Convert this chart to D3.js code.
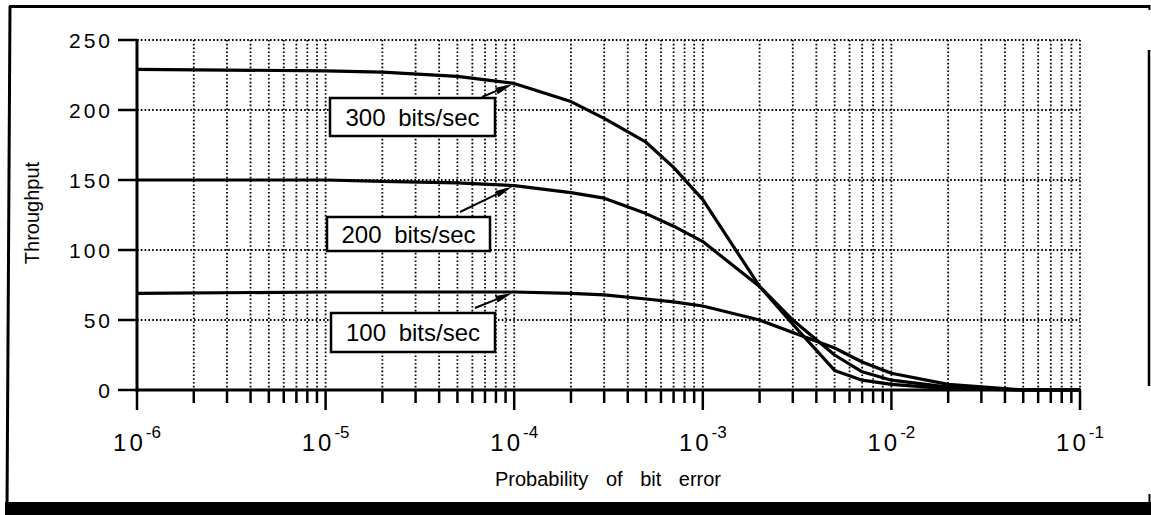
<!DOCTYPE html>
<html>
<head>
<meta charset="utf-8">
<script src="https://cdn.jsdelivr.net/npm/d3@7/dist/d3.min.js"></script>
<style>
  body { margin: 0; background: #fff; }
  svg { display: block; font-family: "Liberation Sans", Arial, Helvetica, sans-serif; }
</style>
</head>
<body>
<svg id="chart" width="1151" height="515"></svg>
<script>
// probability of bit error (x samples shared by all curves)
const errorProb = [1e-6, 1e-5, 2e-5, 5e-5, 1e-4, 2e-4, 3e-4, 5e-4, 7e-4, 1e-3, 2e-3, 3e-3, 5e-3, 7e-3, 1e-2, 2e-2, 5e-2, 1e-1];
// throughput for each data rate
const rate300 = [229, 228, 227, 224, 219, 206, 194, 177, 159, 136, 74, 47, 14, 7, 4, 1, 0, 0];
const rate200 = [150, 150, 149, 148, 146, 141, 137, 126, 117, 106, 74, 50, 25, 13, 7, 2, 0, 0];
const rate100 = [69, 70, 70, 70, 70, 69, 68, 65, 63, 60, 50, 41, 30, 20, 12, 4, 0, 0];
const seriesNames = ["300 bits/sec", "200 bits/sec", "100 bits/sec"];
const yTicks = [0, 50, 100, 150, 200, 250];
const decadeExps = [-6, -5, -4, -3, -2, -1];

const svg = d3.select("#chart");

const x = d3.scaleLog().domain([1e-6, 1e-1]).range([137, 1080]);
const y = d3.scaleLinear().domain([0, 250]).range([390, 40]);

// outer frame (scanned figure border)
svg.append("line").attr("x1", 9).attr("y1", 6.5).attr("x2", 1150).attr("y2", 6.5)
    .attr("stroke", "#000").attr("stroke-width", 3);
svg.append("line").attr("x1", 10).attr("y1", 6).attr("x2", 7).attr("y2", 510)
    .attr("stroke", "#000").attr("stroke-width", 3);
svg.append("rect").attr("x", 5).attr("y", 502).attr("width", 1146).attr("height", 13).attr("fill", "#000");
svg.append("line").attr("x1", 1149).attr("y1", 50).attr("x2", 1149).attr("y2", 386)
    .attr("stroke", "#000").attr("stroke-width", 2.5);
svg.append("line").attr("x1", 1149.5).attr("y1", 5).attr("x2", 1149.5).attr("y2", 10)
    .attr("stroke", "#000").attr("stroke-width", 2);
svg.append("line").attr("x1", 1149.5).attr("y1", 494).attr("x2", 1149.5).attr("y2", 503)
    .attr("stroke", "#000").attr("stroke-width", 2);

// dotted grid
const minorVals = [];
decadeExps.forEach(e => {
    if (e < -1) {
        for (let m = 1; m <= 9; m++) minorVals.push(m * Math.pow(10, e));
    } else {
        minorVals.push(Math.pow(10, e));
    }
});

const grid = svg.append("g").attr("class", "grid")
    .attr("stroke", "#000").attr("stroke-width", 1.8).attr("stroke-dasharray", "1.6,2.2");

grid.selectAll("line.v")
    .data(minorVals.filter(v => v > 1e-6))
    .enter().append("line")
    .attr("class", "v")
    .attr("x1", d => x(d)).attr("x2", d => x(d))
    .attr("y1", y(250)).attr("y2", y(0));

grid.selectAll("line.h")
    .data(yTicks.filter(v => v > 0))
    .enter().append("line")
    .attr("class", "h")
    .attr("x1", x(1e-6)).attr("x2", x(1e-1))
    .attr("y1", d => y(d)).attr("y2", d => y(d));

// axes lines
svg.append("line").attr("x1", x(1e-6)).attr("x2", x(1e-6)).attr("y1", y(250) - 1).attr("y2", y(0) + 2)
    .attr("stroke", "#000").attr("stroke-width", 3);
svg.append("line").attr("x1", x(1e-6) - 1).attr("x2", x(1e-1) + 1).attr("y1", y(0)).attr("y2", y(0))
    .attr("stroke", "#000").attr("stroke-width", 3);

// y ticks + labels
svg.append("g").selectAll("line")
    .data(yTicks).enter().append("line")
    .attr("x1", 118).attr("x2", x(1e-6))
    .attr("y1", d => y(d)).attr("y2", d => y(d))
    .attr("stroke", "#000").attr("stroke-width", 2.5);

svg.append("g").selectAll("text")
    .data(yTicks).enter().append("text")
    .attr("x", 113).attr("y", d => y(d) + 7.5)
    .attr("text-anchor", "end")
    .attr("font-size", "21px")
    .attr("letter-spacing", "3px")
    .text(d => d);

// x ticks
svg.append("g").selectAll("line")
    .data(minorVals).enter().append("line")
    .attr("x1", d => x(d)).attr("x2", d => x(d))
    .attr("y1", y(0))
    .attr("y2", d => Number.isInteger(Math.round(Math.log10(d) * 1000) / 1000) ? y(0) + 20 : y(0) + 13)
    .attr("stroke", "#000").attr("stroke-width", 2.5);

// x tick labels 10^e
const xl = svg.append("g").selectAll("text")
    .data(decadeExps).enter().append("text")
    .attr("x", d => x(Math.pow(10, d)))
    .attr("y", 451)
    .attr("text-anchor", "middle")
    .attr("font-size", "24px");
xl.append("tspan").attr("letter-spacing", "3px").text("10");
xl.append("tspan").attr("font-size", "17px").attr("dy", -13).text(d => "-" + Math.abs(d));

// axis titles
svg.append("text")
    .attr("x", 608).attr("y", 486)
    .attr("text-anchor", "middle")
    .attr("font-size", "20px")
    .attr("word-spacing", "12px")
    .text("Probability of bit error");

svg.append("text")
    .attr("transform", "translate(39,213) rotate(-90)")
    .attr("text-anchor", "middle")
    .attr("font-size", "20px")
    .text("Throughput");

// curves
const series = [rate300, rate200, rate100];
const line = d3.line()
    .x((d, i) => x(errorProb[i]))
    .y(d => y(d));

svg.append("g").selectAll("path")
    .data(series).enter().append("path")
    .attr("d", d => line(d))
    .attr("fill", "none")
    .attr("stroke", "#000")
    .attr("stroke-width", 3.2)
    .attr("stroke-linejoin", "round");

// label boxes with arrows to each curve at 1e-4
const boxes = [
    { x: 330, y: 98, w: 165, h: 38, tail: [482, 97] },
    { x: 327, y: 217, w: 163, h: 34, tail: [460, 212] },
    { x: 331, y: 313, w: 164, h: 39, tail: [475, 308] }
];
const tipIdx = errorProb.indexOf(1e-4);

boxes.forEach((b, i) => {
    const tip = [x(1e-4) - 2, y(series[i][tipIdx]) + 1];
    const dx = tip[0] - b.tail[0], dy = tip[1] - b.tail[1];
    const len = Math.sqrt(dx * dx + dy * dy);
    const ux = dx / len, uy = dy / len;
    const hl = 17, hw = 3.5;
    const bx = tip[0] - ux * hl, by = tip[1] - uy * hl;
    svg.append("line")
        .attr("x1", b.tail[0]).attr("y1", b.tail[1])
        .attr("x2", bx).attr("y2", by)
        .attr("stroke", "#000").attr("stroke-width", 2);
    svg.append("path")
        .attr("d", `M${tip[0]},${tip[1]} L${bx - uy * hw},${by + ux * hw} L${bx + uy * hw},${by - ux * hw} Z`)
        .attr("fill", "#000");

    svg.append("rect")
        .attr("x", b.x).attr("y", b.y).attr("width", b.w).attr("height", b.h)
        .attr("fill", "#fff").attr("stroke", "#000").attr("stroke-width", 2.5);
    svg.append("text")
        .attr("x", b.x + b.w / 2).attr("y", b.y + b.h / 2 + 8.5)
        .attr("text-anchor", "middle")
        .attr("font-size", "24px")
        .attr("word-spacing", "6px")
        .text(seriesNames[i]);
});
</script>
</body>
</html>
